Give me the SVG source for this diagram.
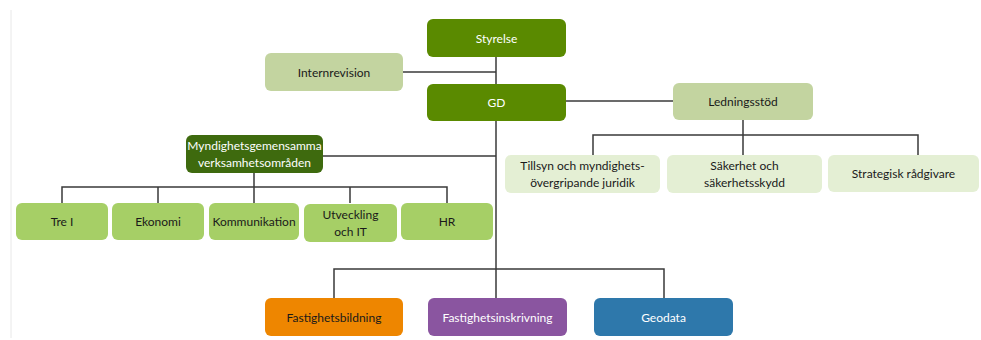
<svg xmlns="http://www.w3.org/2000/svg" width="981" height="340" viewBox="0 0 981 340">
<style>
text{font-family:Lato,"Open Sans","Liberation Sans",sans-serif;font-size:12px;text-anchor:middle;dominant-baseline:central}
.w{fill:#ffffff}
.d{fill:#1a1a1a}
.c{fill:none;stroke:#3a3a3a;stroke-width:1.5}
</style>
<rect width="981" height="340" fill="#ffffff"/>
<line x1="11" y1="10" x2="11" y2="338" stroke="#e8e8e8" stroke-width="1"/>
<g id="connectors" class="c">
<path d="M496 57V269"/>
<path d="M403 72H496"/>
<path d="M566 101H673"/>
<path d="M743 120V135M593 155V135H918V155M743 135V155"/>
<path d="M323 156H496"/>
<path d="M254 173V187M62 203V187H447V203M158 187V203M254 187V203M350 187V203"/>
<path d="M334 298V269H664V298M496 269V298"/>
</g>
<g id="styrelse"><rect x="427" y="19" width="139" height="38" rx="6" fill="#5a8a00"/><text x="496.5" y="38" class="w">Styrelse</text></g>
<g id="internrevision"><rect x="265" y="53" width="138" height="38" rx="6" fill="#c3d4a0"/><text x="334" y="72" class="d">Internrevision</text></g>
<g id="gd"><rect x="427" y="84" width="139" height="37" rx="6" fill="#5a8a00"/><text x="496.5" y="102.5" class="w">GD</text></g>
<g id="ledningsstod"><rect x="673" y="83" width="140" height="37" rx="6" fill="#c3d4a0"/><text x="743" y="101.5" class="d">Ledningsstöd</text></g>
<g id="tillsyn"><rect x="505" y="155" width="155" height="38" rx="6" fill="#e4efd4"/><text x="582.5" y="165" class="d">Tillsyn och myndighets-</text><text x="582.5" y="182" class="d">övergripande juridik</text></g>
<g id="sakerhet"><rect x="667" y="155" width="155" height="38" rx="6" fill="#e4efd4"/><text x="744.5" y="165" class="d">Säkerhet och</text><text x="744.5" y="182" class="d">säkerhetsskydd</text></g>
<g id="strategisk"><rect x="828" y="155" width="151" height="37" rx="6" fill="#e4efd4"/><text x="903.5" y="173.5" class="d">Strategisk rådgivare</text></g>
<g id="myndighets"><rect x="186" y="135" width="137" height="38" rx="6" fill="#3e6a0e"/><text x="254.5" y="145" class="w">Myndighetsgemensamma</text><text x="254.5" y="162" class="w">verksamhetsområden</text></g>
<g id="trei"><rect x="16" y="203" width="92" height="37" rx="6" fill="#a6cf66"/><text x="62" y="221.5" class="d">Tre I</text></g>
<g id="ekonomi"><rect x="112" y="203" width="92" height="37" rx="6" fill="#a6cf66"/><text x="158" y="221.5" class="d">Ekonomi</text></g>
<g id="kommunikation"><rect x="209" y="203" width="90" height="37" rx="6" fill="#a6cf66"/><text x="254" y="221.5" class="d">Kommunikation</text></g>
<g id="utveckling"><rect x="304" y="204" width="93" height="38" rx="6" fill="#a6cf66"/><text x="350.5" y="214" class="d">Utveckling</text><text x="350.5" y="231" class="d">och IT</text></g>
<g id="hr"><rect x="401" y="203" width="92" height="37" rx="6" fill="#a6cf66"/><text x="447" y="221.5" class="d">HR</text></g>
<g id="fastighetsbildning"><rect x="265" y="298" width="138" height="38" rx="6" fill="#ee8600"/><text x="334" y="317" class="d">Fastighetsbildning</text></g>
<g id="fastighetsinskrivning"><rect x="428" y="298" width="139" height="38" rx="6" fill="#8a55a0"/><text x="497.5" y="317" class="w">Fastighetsinskrivning</text></g>
<g id="geodata"><rect x="594" y="298" width="139" height="38" rx="6" fill="#2e78ab"/><text x="663.5" y="317" class="w">Geodata</text></g>
</svg>
